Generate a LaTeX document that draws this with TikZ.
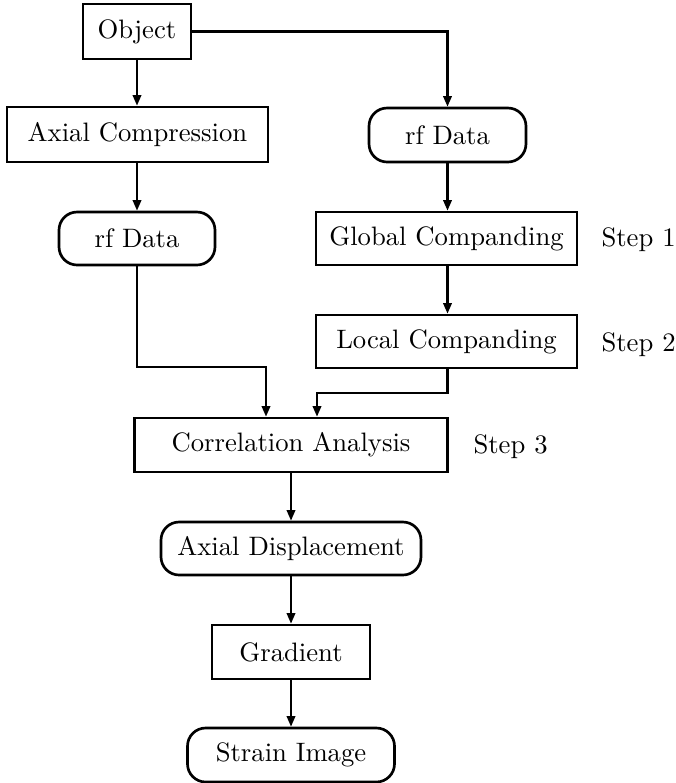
\documentclass[tikz,border=0pt]{standalone}
\usetikzlibrary{arrows.meta}
\begin{document}
\begin{tikzpicture}[x=0.375pt,y=-0.375pt,
  box/.style={draw,line width=1pt,inner sep=0pt,anchor=center},
  rbox/.style={box,rounded corners=6.8pt},
  arr/.style={line width=0.8pt,-{Triangle[length=4pt,width=3.2pt]}},
  lab/.style={anchor=west,inner sep=0pt}]
\useasboundingbox (0,0) rectangle (676,783);
\node[box,minimum width=108*0.375pt,minimum height=55*0.375pt] (obj) at (137,31.5) {Object};
\node[box,minimum width=261*0.375pt,minimum height=55*0.375pt] (axc) at (137.5,134.5) {Axial Compression};
\node[rbox,minimum width=156*0.375pt,minimum height=53*0.375pt] (rfl) at (137,238.5) {rf Data};
\node[rbox,minimum width=157*0.375pt,minimum height=54*0.375pt] (rfr) at (447.5,135) {rf Data};
\node[box,minimum width=261*0.375pt,minimum height=53*0.375pt] (glob) at (446.5,238.5) {Global Companding};
\node[box,minimum width=261*0.375pt,minimum height=53*0.375pt] (loc) at (446.5,341.5) {Local Companding};
\node[box,minimum width=313*0.375pt,minimum height=54*0.375pt] (corr) at (291,445) {Correlation Analysis};
\node[rbox,minimum width=260*0.375pt,minimum height=53*0.375pt] (disp) at (291,548.5) {Axial Displacement};
\node[box,minimum width=158*0.375pt,minimum height=54*0.375pt] (grad) at (291,652) {Gradient};
\node[rbox,minimum width=207*0.375pt,minimum height=54*0.375pt] (strain) at (291,755) {Strain Image};
\node[lab] (s1) at (601,240) {Step 1};
\node[lab] (s2) at (601,345) {Step 2};
\node[lab] (s3) at (473,447) {Step 3};
\coordinate (c1) at (266,367);
\coordinate (c2) at (317,393);
\draw[arr] (obj.east) -| (rfr.north);
\draw[arr] (obj.south) -- (obj.south |- axc.north);
\draw[arr] (axc.south -| obj.south) -- (obj.south |- rfl.north);
\draw[arr] (rfr.south) -- (rfr.south |- glob.north);
\draw[arr] (rfr.south |- glob.south) -- (rfr.south |- loc.north);
\draw[arr] (rfl.south) |- (c1) -- (c1 |- corr.north);
\draw[arr] (rfr.south |- loc.south) |- (c2) -- (c2 |- corr.north);
\draw[arr] (corr.south) -- (disp.north);
\draw[arr] (disp.south) -- (grad.north);
\draw[arr] (grad.south) -- (strain.north);
\end{tikzpicture}
\end{document}
